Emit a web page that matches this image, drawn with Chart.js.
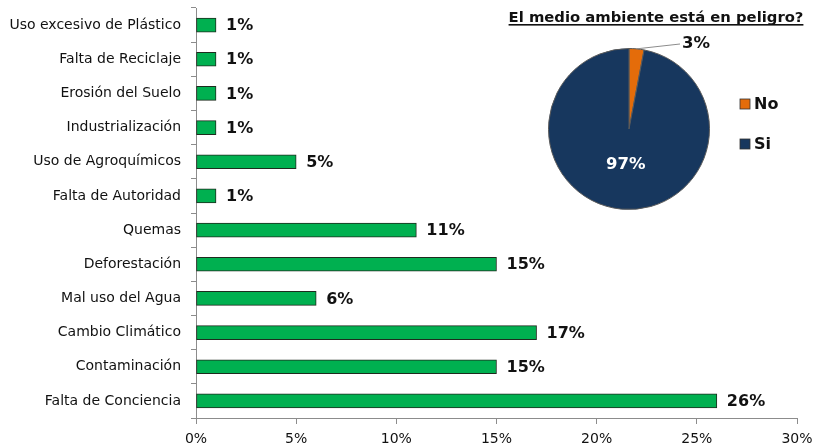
<!DOCTYPE html>
<html>
<head>
<meta charset="utf-8">
<script src="https://cdn.jsdelivr.net/npm/chart.js@4.4.1/dist/chart.umd.min.js"></script>
<style>
html,body{margin:0;padding:0;background:#fff;}
#wrap{position:relative;width:816px;height:448px;}
#bar{position:absolute;left:0;top:0;}
#pie{position:absolute;left:500px;top:0;}
</style>
</head>
<body>
<div id="wrap">
<canvas id="bar" width="816" height="448"></canvas>
<canvas id="pie" width="316" height="230"></canvas>
</div>
<script>
const categories = ["Uso excesivo de Plástico","Falta de Reciclaje","Erosión del Suelo","Industrialización","Uso de Agroquímicos","Falta de Autoridad","Quemas","Deforestación","Mal uso del Agua","Cambio Climático","Contaminación","Falta de Conciencia"];
const values = [1,1,1,1,5,1,11,15,6,17,15,26];
const xTicks = [0,5,10,15,20,25,30];
const pieTitle = "El medio ambiente está en peligro?";
const pieLabels = ["No","Si"];
const pieValues = [3,97];

const barLabelPlugin = {
  id:'barLabels',
  afterDatasetsDraw(chart){
    const ctx = chart.ctx;
    const meta = chart.getDatasetMeta(0);
    ctx.save();
    ctx.font = 'bold 16px "DejaVu Sans"';
    ctx.fillStyle = '#111';
    ctx.textBaseline = 'middle';
    ctx.textAlign = 'left';
    meta.data.forEach((el,i)=>{
      ctx.fillText(values[i]+'%', el.x+10, el.y+1);
    });
    ctx.restore();
  }
};

new Chart(document.getElementById('bar'),{
  type:'bar',
  data:{labels:categories,datasets:[{data:values,backgroundColor:'#00B050',borderColor:'#1e2b1e',borderWidth:1,borderSkipped:false,barThickness:14}]},
  options:{
    indexAxis:'y',responsive:false,animation:false,
    layout:{padding:{top:8,right:19,left:0,bottom:0}},
    plugins:{legend:{display:false},tooltip:{enabled:false}},
    scales:{
      x:{min:0,max:30,
        afterBuildTicks(s){s.ticks = xTicks.map(v=>({value:v}));},
        afterFit(s){s.height=30;s.paddingLeft=0;s.paddingRight=0;},
        ticks:{callback:v=>v+'%',font:{family:'DejaVu Sans',size:14},color:'#111',padding:7,maxRotation:0},
        grid:{drawOnChartArea:false,drawTicks:true,tickLength:6,color:'#8c8c8c'},
        border:{color:'#8c8c8c',width:1}
      },
      y:{
        afterFit(s){s.width=196;s.paddingTop=0;s.paddingBottom=0;},
        ticks:{font:{family:'DejaVu Sans',size:14},color:'#111',padding:10},
        grid:{drawOnChartArea:false,drawTicks:true,tickLength:5,offset:true,color:'#8c8c8c'},
        border:{color:'#8c8c8c',width:1}
      }
    }
  },
  plugins:[barLabelPlugin]
});

const pieColors = ['#E46C0A','#17375E'];
const piePlugin = {
  id:'pieDecor',
  afterDatasetsDraw(chart){
    const ctx = chart.ctx;
    const meta = chart.getDatasetMeta(0);
    const a0 = meta.data[0], a1 = meta.data[1];
    const cx = a0.x, cy = a0.y, r = a0.outerRadius;
    ctx.save();
    ctx.font = 'bold 14.8px "DejaVu Sans"';
    ctx.fillStyle = '#111';
    ctx.textAlign = 'center';
    ctx.textBaseline = 'alphabetic';
    const tx = 156, ty = 22;
    ctx.fillText(pieTitle, tx, ty);
    const w = ctx.measureText(pieTitle).width;
    ctx.fillRect(tx - w/2, ty + 2, w, 1.6);
    const m0 = (a0.startAngle + a0.endAngle)/2;
    const ex = cx + Math.cos(m0)*r, ey = cy + Math.sin(m0)*r;
    ctx.strokeStyle = '#8c8c8c'; ctx.lineWidth = 1;
    ctx.beginPath(); ctx.moveTo(ex,ey); ctx.lineTo(180,44); ctx.stroke();
    ctx.font = 'bold 16.5px "DejaVu Sans"';
    ctx.textAlign = 'left'; ctx.textBaseline = 'middle';
    ctx.fillText(pieValues[0]+'%', 182, 44);
    const m1 = (a1.startAngle + a1.endAngle)/2;
    ctx.fillStyle = '#fff';
    ctx.textAlign = 'center';
    ctx.fillText(pieValues[1]+'%', cx + Math.cos(m1)*r*0.44, cy + Math.sin(m1)*r*0.44);
    const ly = [104,144];
    pieLabels.forEach((lab,i)=>{
      ctx.fillStyle = pieColors[i];
      ctx.fillRect(240, ly[i]-5, 10, 10);
      ctx.strokeStyle = '#333'; ctx.lineWidth = 0.8;
      ctx.strokeRect(240, ly[i]-5, 10, 10);
      ctx.fillStyle = '#111';
      ctx.font = 'bold 16px "DejaVu Sans"';
      ctx.textAlign = 'left'; ctx.textBaseline = 'middle';
      ctx.fillText(lab, 254, ly[i]+1);
    });
    ctx.restore();
  }
};

new Chart(document.getElementById('pie'),{
  type:'pie',
  data:{labels:pieLabels,datasets:[{data:pieValues,backgroundColor:pieColors,borderColor:'#5a5a5a',borderWidth:1}]},
  options:{
    responsive:false,animation:false,
    layout:{padding:{left:48,right:106,top:48,bottom:20}},
    plugins:{legend:{display:false},tooltip:{enabled:false},title:{display:false}}
  },
  plugins:[piePlugin]
});
</script>
</body>
</html>
